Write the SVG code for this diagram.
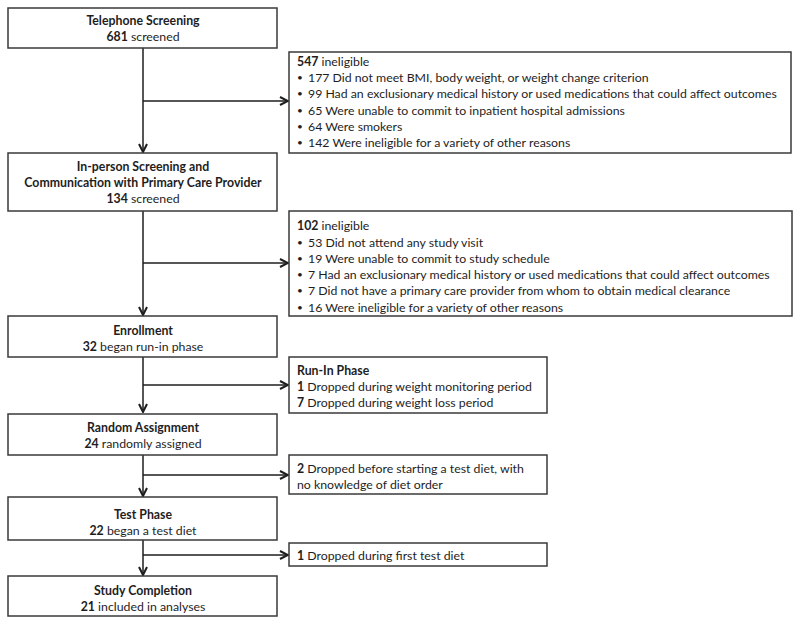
<svg xmlns="http://www.w3.org/2000/svg" width="800" height="625" viewBox="0 0 800 625">
<defs>
<style>
.box{fill:#fff;stroke:#3a3a3a;stroke-width:1.5}
text{font-family:Lato,"Open Sans","Liberation Sans",sans-serif;font-size:12.3px;fill:#1e1e1e}
.c{text-anchor:middle}
.b{font-weight:bold}
.bl{font-size:10px}
.ln{stroke:#1e1e1e;stroke-width:1.5;fill:none}
</style>
<marker id="ah" viewBox="0 0 10 10" refX="9" refY="5" markerWidth="10" markerHeight="10" markerUnits="userSpaceOnUse" orient="auto">
<path d="M1,1 L9,5 L1,9" fill="none" stroke="#1e1e1e" stroke-width="2"/>
</marker>
</defs>
<rect width="800" height="625" fill="#fff"/>
<g id="connectors">
<path class="ln" d="M143,48 V152" marker-end="url(#ah)"/>
<path class="ln" d="M143,101 H288" marker-end="url(#ah)"/>
<path class="ln" d="M143,211 V315" marker-end="url(#ah)"/>
<path class="ln" d="M143,263 H288" marker-end="url(#ah)"/>
<path class="ln" d="M143,357 V412" marker-end="url(#ah)"/>
<path class="ln" d="M143,385 H288" marker-end="url(#ah)"/>
<path class="ln" d="M143,455 V496" marker-end="url(#ah)"/>
<path class="ln" d="M143,475 H288" marker-end="url(#ah)"/>
<path class="ln" d="M143,540 V575" marker-end="url(#ah)"/>
<path class="ln" d="M143,555 H288" marker-end="url(#ah)"/>
</g>
<g id="n1">
<rect class="box" x="8" y="8" width="269" height="40"/>
<text class="c b" x="143" y="25">Telephone Screening</text>
<text class="c" x="143" y="41"><tspan class="b">681</tspan> screened</text>
</g>
<g id="r1">
<rect class="box" x="289" y="52" width="502" height="101"/>
<text x="297" y="66"><tspan class="b">547</tspan> ineligible</text>
<text class="bl" x="297" y="81">•</text><text x="308" y="82">177 Did not meet BMI, body weight, or weight change criterion</text>
<text class="bl" x="297" y="97">•</text><text x="308" y="98">99 Had an exclusionary medical history or used medications that could affect outcomes</text>
<text class="bl" x="297" y="114">•</text><text x="308" y="115">65 Were unable to commit to inpatient hospital admissions</text>
<text class="bl" x="297" y="130">•</text><text x="308" y="131">64 Were smokers</text>
<text class="bl" x="297" y="146">•</text><text x="308" y="147">142 Were ineligible for a variety of other reasons</text>
</g>
<g id="n2">
<rect class="box" x="8" y="153" width="269" height="58"/>
<text class="c b" x="143" y="171">In-person Screening and</text>
<text class="c b" x="143" y="187">Communication with Primary Care Provider</text>
<text class="c" x="143" y="203"><tspan class="b">134</tspan> screened</text>
</g>
<g id="r2">
<rect class="box" x="289" y="211" width="503" height="105"/>
<text x="297" y="230"><tspan class="b">102</tspan> ineligible</text>
<text class="bl" x="297" y="246">•</text><text x="308" y="247">53 Did not attend any study visit</text>
<text class="bl" x="297" y="262">•</text><text x="308" y="263">19 Were unable to commit to study schedule</text>
<text class="bl" x="297" y="278">•</text><text x="308" y="279">7 Had an exclusionary medical history or used medications that could affect outcomes</text>
<text class="bl" x="297" y="294">•</text><text x="308" y="295">7 Did not have a primary care provider from whom to obtain medical clearance</text>
<text class="bl" x="297" y="311">•</text><text x="308" y="312">16 Were ineligible for a variety of other reasons</text>
</g>
<g id="n3">
<rect class="box" x="8" y="316" width="269" height="41"/>
<text class="c b" x="143" y="335">Enrollment</text>
<text class="c" x="143" y="351"><tspan class="b">32</tspan> began run-in phase</text>
</g>
<g id="r3">
<rect class="box" x="289" y="357" width="258" height="56"/>
<text class="b" x="297" y="375">Run-In Phase</text>
<text x="297" y="391"><tspan class="b">1</tspan> Dropped during weight monitoring period</text>
<text x="297" y="407"><tspan class="b">7</tspan> Dropped during weight loss period</text>
</g>
<g id="n4">
<rect class="box" x="8" y="414" width="269" height="41"/>
<text class="c b" x="143" y="432">Random Assignment</text>
<text class="c" x="143" y="448"><tspan class="b">24</tspan> randomly assigned</text>
</g>
<g id="r4">
<rect class="box" x="289" y="455" width="258" height="39"/>
<text x="297" y="473"><tspan class="b">2</tspan> Dropped before starting a test diet, with</text>
<text x="297" y="489">no knowledge of diet order</text>
</g>
<g id="n5">
<rect class="box" x="8" y="497" width="269" height="43"/>
<text class="c b" x="143" y="519">Test Phase</text>
<text class="c" x="143" y="535"><tspan class="b">22</tspan> began a test diet</text>
</g>
<g id="r5">
<rect class="box" x="289" y="543" width="258" height="23"/>
<text x="297" y="560"><tspan class="b">1</tspan> Dropped during first test diet</text>
</g>
<g id="n6">
<rect class="box" x="8" y="576" width="269" height="40"/>
<text class="c b" x="143" y="595">Study Completion</text>
<text class="c" x="143" y="611"><tspan class="b">21</tspan> included in analyses</text>
</g>
</svg>
